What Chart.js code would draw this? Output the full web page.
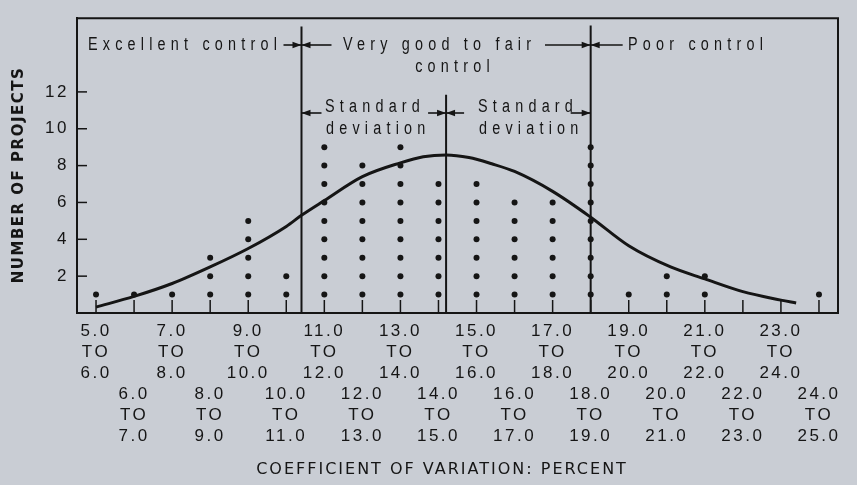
<!DOCTYPE html>
<html>
<head>
<meta charset="utf-8">
<script src="https://cdn.jsdelivr.net/npm/chart.js@4/dist/chart.umd.min.js"></script>
<style>
  html, body { margin: 0; padding: 0; background: #c9cdd4; }
  #wrap { width: 857px; height: 485px; position: relative; }
</style>
</head>
<body>
<div id="wrap"><canvas id="c" width="857" height="485"></canvas></div>
<script>
// Class intervals of the coefficient of variation, percent (lower bound of each 1-point class)
const binStarts = [5, 6, 7, 8, 9, 10, 11, 12, 13, 14, 15, 16, 17, 18, 19, 20, 21, 22, 23, 24];
// Number of projects falling in each class
const projectCounts = [1, 1, 1, 3, 5, 2, 9, 8, 9, 7, 7, 6, 6, 9, 1, 2, 2, 0, 0, 1];
// Left-axis tick values
const yTickValues = [2, 4, 6, 8, 10, 12];
// Fitted frequency curve
const curveX = [5.5, 6.5, 7.5, 8.5, 9.5, 10.5, 10.9, 11.5, 12.5, 13.5, 14.1, 14.7, 15.3, 15.9, 16.5, 17.5, 18.5, 19.5, 20.6, 21.5, 22.5, 23.5, 23.9];
const curveY = [0.32, 0.9, 1.6, 2.5, 3.5, 4.7, 5.3, 6.1, 7.4, 8.15, 8.48, 8.58, 8.44, 8.1, 7.68, 6.6, 5.2, 3.65, 2.5, 1.85, 1.16, 0.7, 0.54];
// Mean and one standard deviation either side (percent)
const meanCV = 14.7;
const lowerSD = 10.9;
const upperSD = 18.5;
// Heights of the three division lines (number of projects)
const divisionTops = [15.55, 11.85, 15.6];

const INK = '#151515';
const NARROW = "'Liberation Sans Narrow', 'Liberation Sans', sans-serif";

// one dot per project, stacked in its class
const dotPoints = [];
binStarts.forEach((b, i) => {
  for (let k = 1; k <= projectCounts[i]; k++) dotPoints.push({ x: b + 0.5, y: k });
});
const curvePoints = curveX.map((x, i) => ({ x, y: curveY[i] }));

function fmt(v) { return v.toFixed(1); }

// x labels: odd classes on the upper three lines, even classes on the lower three
function classLabel(value) {
  const i = binStarts.findIndex(b => Math.abs(b + 0.5 - value) < 1e-6);
  if (i < 0) return '';
  const lo = fmt(binStarts[i]), hi = fmt(binStarts[i] + 1);
  return i % 2 === 0 ? [lo, 'TO', hi, '', '', ''] : ['', '', '', lo, 'TO', hi];
}

function divisionLine(x, top) {
  return {
    type: 'line',
    data: [{ x, y: 0 }, { x, y: top }],
    borderColor: INK, borderWidth: 2, pointRadius: 0, tension: 0, order: 3
  };
}

const spacingPlugin = {
  id: 'spacing',
  beforeLayout(chart) { chart.ctx.letterSpacing = '2.5px'; },
  beforeDraw(chart) { chart.ctx.letterSpacing = '2.5px'; }
};

function arrowHead(ctx, x, y, dir) {
  ctx.beginPath();
  ctx.moveTo(x, y);
  ctx.lineTo(x - dir * 9, y - 3.2);
  ctx.lineTo(x - dir * 9, y + 3.2);
  ctx.closePath();
  ctx.fill();
}
// line from x1 to x2 with the head at x2
function arrow(ctx, x1, x2, y) {
  ctx.beginPath();
  ctx.moveTo(x1, y);
  ctx.lineTo(x2, y);
  ctx.stroke();
  arrowHead(ctx, x2, y, x2 > x1 ? 1 : -1);
}
// condensed lettering: the face is squeezed horizontally
function narrowText(ctx, text, x, y, align) {
  ctx.save();
  ctx.translate(x, y);
  ctx.scale(0.8, 1);
  ctx.textAlign = align;
  ctx.fillText(text, 0, 0);
  ctx.restore();
}

const framePlugin = {
  id: 'frame',
  beforeDatasetsDraw(chart) {
    const { ctx, chartArea: a, scales } = chart;
    ctx.save();
    ctx.strokeStyle = INK;
    ctx.lineWidth = 2;
    ctx.beginPath();
    ctx.moveTo(a.left, a.top); ctx.lineTo(a.right, a.top); ctx.lineTo(a.right, a.bottom);
    ctx.stroke();
    // inward tick marks
    ctx.lineWidth = 1.5;
    binStarts.forEach(b => {
      const x = scales.x.getPixelForValue(b + 0.5);
      ctx.beginPath(); ctx.moveTo(x, a.bottom); ctx.lineTo(x, a.bottom - 13); ctx.stroke();
    });
    yTickValues.forEach(v => {
      const y = scales.y.getPixelForValue(v);
      ctx.beginPath(); ctx.moveTo(a.left, y); ctx.lineTo(a.left + 10, y); ctx.stroke();
    });
    ctx.restore();
  },
  afterDraw(chart) {
    const { ctx, scales } = chart;
    const xs = scales.x;
    const xL = xs.getPixelForValue(lowerSD), xM = xs.getPixelForValue(meanCV), xU = xs.getPixelForValue(upperSD);
    ctx.save();
    ctx.fillStyle = INK;
    ctx.strokeStyle = INK;
    ctx.lineWidth = 1.6;
    ctx.textBaseline = 'middle';
    ctx.font = '18px ' + NARROW;
    ctx.letterSpacing = '6.5px';

    // control bands
    narrowText(ctx, 'Excellent control', 88, 45, 'left');
    arrow(ctx, xL - 18, xL, 45);
    arrow(ctx, xL + 30, xL, 45);
    narrowText(ctx, 'Very good to fair', 343, 45, 'left');
    arrow(ctx, 545, xU, 45);
    arrow(ctx, xU + 32, xU, 45);
    narrowText(ctx, 'Poor control', 628, 45, 'left');
    narrowText(ctx, 'control', 455, 67, 'center');

    // standard deviation brackets
    narrowText(ctx, 'Standard', 325, 107, 'left');
    narrowText(ctx, 'deviation', 326, 129, 'left');
    narrowText(ctx, 'Standard', 478, 107, 'left');
    narrowText(ctx, 'deviation', 479, 129, 'left');
    arrow(ctx, xL + 20, xL, 113);
    arrow(ctx, xM - 18, xM, 113);
    arrow(ctx, xM + 18, xM, 113);
    arrow(ctx, xU - 20, xU, 113);

    // axis titles
    ctx.font = '16px "DejaVu Sans", sans-serif';
    ctx.letterSpacing = '2px';
    ctx.textAlign = 'center';
    ctx.fillText('COEFFICIENT OF VARIATION: PERCENT', 442, 470);
    ctx.translate(19, 175);
    ctx.rotate(-Math.PI / 2);
    ctx.font = 'bold 15px "DejaVu Sans", sans-serif';
    ctx.letterSpacing = '1.5px';
    ctx.fillText('NUMBER OF PROJECTS', 0, 0);
    ctx.restore();
  }
};

new Chart(document.getElementById('c'), {
  type: 'scatter',
  data: {
    datasets: [
      {
        type: 'scatter',
        data: dotPoints,
        backgroundColor: INK, borderColor: INK,
        pointRadius: 3, pointHoverRadius: 3, borderWidth: 0, order: 1
      },
      {
        type: 'line',
        data: curvePoints,
        borderColor: INK, borderWidth: 3, pointRadius: 0,
        cubicInterpolationMode: 'monotone', fill: false, order: 2
      },
      divisionLine(lowerSD, divisionTops[0]),
      divisionLine(meanCV, divisionTops[1]),
      divisionLine(upperSD, divisionTops[2])
    ]
  },
  options: {
    responsive: false,
    animation: false,
    devicePixelRatio: 1,
    layout: { padding: { left: 0, top: 14, right: 19, bottom: 0 } },
    plugins: { legend: { display: false }, tooltip: { enabled: false } },
    scales: {
      x: {
        type: 'linear', min: 5, max: 25, position: 'bottom',
        grid: { display: false, drawTicks: false },
        border: { display: true, color: INK, width: 2 },
        afterBuildTicks(scale) { scale.ticks = binStarts.map(b => ({ value: b + 0.5 })); },
        afterFit(scale) { scale.height = 172; },
        ticks: {
          autoSkip: false, maxRotation: 0, minRotation: 0, padding: 8,
          color: INK,
          font: { family: NARROW, size: 17, lineHeight: 1.23 },
          callback: (v) => classLabel(v)
        }
      },
      y: {
        min: 0, max: 16,
        grid: { display: false, drawTicks: false },
        border: { display: true, color: INK, width: 2 },
        afterBuildTicks(scale) { scale.ticks = yTickValues.map(v => ({ value: v })); },
        afterFit(scale) { scale.width = 77; },
        ticks: {
          padding: 8, color: INK,
          font: { family: NARROW, size: 17 }
        }
      }
    }
  },
  plugins: [spacingPlugin, framePlugin]
});
</script>
</body>
</html>
